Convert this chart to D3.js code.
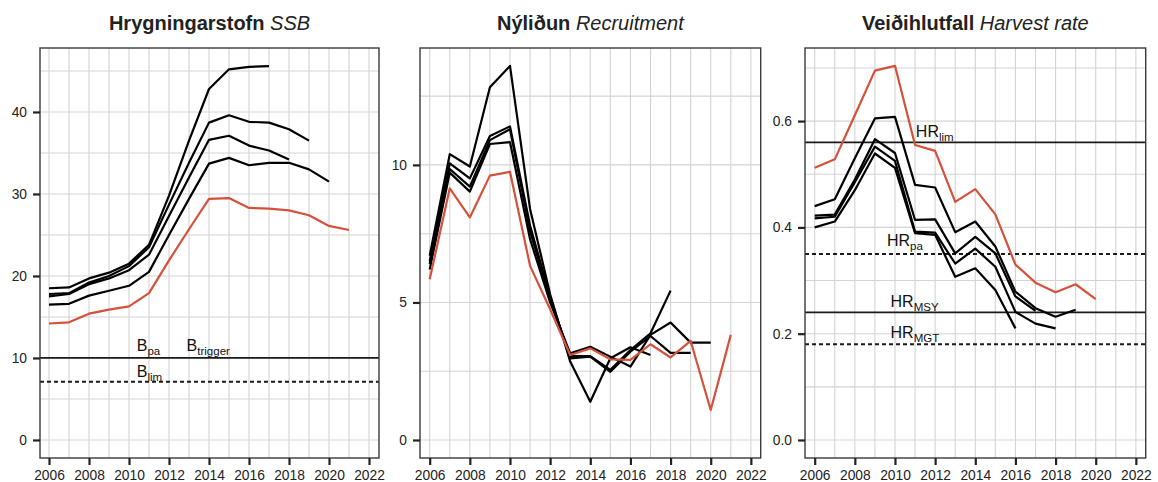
<!DOCTYPE html>
<html>
<head>
<meta charset="utf-8">
<script src="https://cdn.jsdelivr.net/npm/d3@7"></script>
<style>
    body { margin: 0; background: #fff; }
    svg { display: block; font-family: "Liberation Sans", Arial, Helvetica, sans-serif; }
</style>
</head>
<body>
<div id="chart"></div>
<script>
const firstYear = 2006;
const xTickYears = [2006, 2008, 2010, 2012, 2014, 2016, 2018, 2020, 2022];

//spawning stock biomass, one series per assessment (red = latest)
const ssb2017 = [18.5, 18.6, 19.7, 20.4, 21.5, 23.8, 29.8, 36.5, 42.8, 45.2, 45.5, 45.6];
const ssb2018 = [17.5, 17.8, 19.0, 19.7, 20.7, 22.6, 27.3, 32.0, 36.6, 37.1, 35.9, 35.3, 34.2];
const ssb2019 = [17.8, 17.9, 19.2, 20.0, 21.2, 23.5, 28.7, 33.8, 38.7, 39.6, 38.8, 38.7, 37.9, 36.5];
const ssb2020 = [16.5, 16.6, 17.6, 18.2, 18.8, 20.5, 25.0, 29.4, 33.7, 34.4, 33.5, 33.8, 33.8, 33.0, 31.5];
const ssb2021 = [14.2, 14.35, 15.4, 15.9, 16.3, 17.9, 21.9, 25.7, 29.4, 29.5, 28.3, 28.2, 28.0, 27.4, 26.1, 25.6];

//recruitment
const rec2017 = [6.7, 10.39, 9.94, 12.82, 13.6, 8.4, 5.3, 2.85, 1.39, 2.97, 3.37, 3.09];
const rec2018 = [6.4, 9.85, 9.21, 10.9, 11.3, 7.6, 5.1, 3.05, 3.05, 2.55, 3.27, 3.88, 5.43];
const rec2019 = [6.5, 10.06, 9.51, 11.05, 11.4, 7.8, 5.2, 2.97, 3.03, 2.48, 3.21, 3.78, 3.17, 3.17];
const rec2020 = [6.2, 9.72, 9.03, 10.76, 10.83, 7.3, 5.0, 3.15, 3.39, 3.03, 2.67, 3.82, 4.27, 3.54, 3.54];
const rec2021 = [5.84, 9.15, 8.09, 9.61, 9.75, 6.33, 4.75, 3.09, 3.33, 2.93, 2.91, 3.48, 3.0, 3.6, 1.09, 3.82];

//harvest rate
const hr2017 = [0.40, 0.411, 0.47, 0.539, 0.512, 0.389, 0.386, 0.307, 0.323, 0.282, 0.21];
const hr2018 = [0.422, 0.424, 0.49, 0.566, 0.54, 0.414, 0.415, 0.351, 0.382, 0.351, 0.27, 0.243];
const hr2019 = [0.417, 0.420, 0.485, 0.552, 0.525, 0.392, 0.39, 0.332, 0.36, 0.326, 0.241, 0.219, 0.21];
const hr2020 = [0.44, 0.453, 0.53, 0.605, 0.608, 0.48, 0.475, 0.391, 0.411, 0.364, 0.279, 0.248, 0.232, 0.245];
const hr2021 = [0.512, 0.528, 0.611, 0.695, 0.704, 0.555, 0.544, 0.448, 0.472, 0.4245, 0.33, 0.296, 0.278, 0.293, 0.265];

//reference points
const ssbRefs = [
    { label: "B", sub: "pa", value: 10, dashed: false },
    { label: "B", sub: "lim", value: 7.1, dashed: true }
];
const hrRefs = [
    { label: "HR", sub: "lim", value: 0.56, dashed: false },
    { label: "HR", sub: "pa", value: 0.35, dashed: true },
    { label: "HR", sub: "MSY", value: 0.24, dashed: false },
    { label: "HR", sub: "MGT", value: 0.18, dashed: true }
];

const ssbTicks = [0, 10, 20, 30, 40];
const recTicks = [0, 5, 10];
const hrTicks = [0, 0.2, 0.4, 0.6];

const red = "#d4513b";
const W = 1158, H = 482;
const plotTop = 48, plotBottom = 458;

const svg = d3.select("#chart").append("svg")
    .attr("width", W)
    .attr("height", H);

function toPoints(values) {
    return values.map((v, i) => ({ year: firstYear + i, value: v }));
}

function drawPanel(p) {
    const x = d3.scaleLinear().domain(p.xDomain).range([p.left, p.right]);
    const y = d3.scaleLinear().domain(p.yDomain).range([plotBottom, plotTop]);
    const g = svg.append("g");

    //grid lines
    g.selectAll(".vgrid")
        .data(d3.range(2006, 2023))
        .join("line")
        .attr("x1", d => x(d)).attr("x2", d => x(d))
        .attr("y1", plotTop).attr("y2", plotBottom)
        .attr("stroke", "#d3d3d3")
        .attr("stroke-width", 1.1);

    g.selectAll(".hgrid")
        .data(p.gridY)
        .join("line")
        .attr("x1", p.left).attr("x2", p.right)
        .attr("y1", d => y(d)).attr("y2", d => y(d))
        .attr("stroke", "#d3d3d3")
        .attr("stroke-width", 1.1);

    //reference lines
    (p.refs || []).forEach(r => {
        g.append("line")
            .attr("x1", p.left).attr("x2", p.right)
            .attr("y1", y(r.value)).attr("y2", y(r.value))
            .attr("stroke", "#1a1a1a")
            .attr("stroke-width", r.dashed ? 1.9 : 1.8)
            .attr("stroke-dasharray", r.dashed ? "4 3" : null);
    });

    const line = d3.line()
        .x(d => x(d.year))
        .y(d => y(d.value));

    //older assessments in black, latest in red on top
    p.series.forEach((s, i) => {
        g.append("path")
            .datum(toPoints(s))
            .attr("fill", "none")
            .attr("stroke", i === p.series.length - 1 ? red : "#000")
            .attr("stroke-width", 2.2)
            .attr("stroke-linejoin", "round")
            .attr("d", line);
    });

    //reference labels
    (p.refLabels || []).forEach(l => {
        const t = g.append("text")
            .attr("x", x(l.year))
            .attr("y", y(l.value))
            .attr("font-size", 16)
            .attr("fill", "#111");
        t.append("tspan").text(l.label);
        t.append("tspan").attr("dy", 4).attr("font-size", 11.5).text(l.sub);
    });

    //box
    g.append("rect")
        .attr("x", p.left).attr("y", plotTop)
        .attr("width", p.right - p.left)
        .attr("height", plotBottom - plotTop)
        .attr("fill", "none")
        .attr("stroke", "#3a3a3a")
        .attr("stroke-width", 1.4);

    //axes
    const xAxis = g.append("g")
        .attr("transform", `translate(0,${plotBottom})`)
        .call(d3.axisBottom(x).tickValues(xTickYears).tickFormat(d3.format("d"))
            .tickSize(7).tickSizeOuter(0).tickPadding(5));
    const yAxis = g.append("g")
        .attr("transform", `translate(${p.left},0)`)
        .call(d3.axisLeft(y).tickValues(p.ticks).tickFormat(p.format)
            .tickSize(7).tickSizeOuter(0).tickPadding(6));
    [xAxis, yAxis].forEach(a => {
        a.select(".domain").remove();
        a.selectAll(".tick line").attr("stroke", "#222").attr("stroke-width", 2.2);
        a.selectAll(".tick text")
            .attr("font-size", 13.8)
            .attr("fill", "#222");
        a.attr("font-family", null).attr("font-size", null);
    });

    //title
    const title = g.append("text")
        .attr("x", (p.left + p.right) / 2)
        .attr("y", 30)
        .attr("text-anchor", "middle")
        .attr("font-size", 20)
        .attr("fill", "#222");
    title.append("tspan").attr("font-weight", "bold").text(p.title);
    title.append("tspan").attr("font-style", "italic").text(" " + p.subtitle);
}

drawPanel({
    title: "Hrygningarstofn", subtitle: "SSB",
    left: 40, right: 379,
    xDomain: [2005.55, 2022.5], yDomain: [-2.2, 47.8],
    gridY: d3.range(0, 50, 5), ticks: ssbTicks, format: d3.format("d"),
    series: [ssb2017, ssb2018, ssb2019, ssb2020, ssb2021],
    refs: ssbRefs,
    refLabels: [
        { label: "B", sub: "pa", year: 2010.39, value: 10.8 },
        { label: "B", sub: "trigger", year: 2012.88, value: 10.8 },
        { label: "B", sub: "lim", year: 2010.39, value: 7.68 }
    ]
});

drawPanel({
    title: "Nýliðun", subtitle: "Recruitment",
    left: 420, right: 760.7,
    xDomain: [2005.517, 2022.49], yDomain: [-0.655, 14.25],
    gridY: d3.range(0, 15, 2.5), ticks: recTicks, format: d3.format("d"),
    series: [rec2017, rec2018, rec2019, rec2020, rec2021]
});

drawPanel({
    title: "Veiðihlutfall", subtitle: "Harvest rate",
    left: 805, right: 1145.7,
    xDomain: [2005.517, 2022.49], yDomain: [-0.0339, 0.7375],
    gridY: d3.range(0, 0.75, 0.1), ticks: hrTicks, format: d3.format(".1f"),
    series: [hr2017, hr2018, hr2019, hr2020, hr2021],
    refs: hrRefs,
    refLabels: [
        { label: "HR", sub: "lim", year: 2011.04, value: 0.5706 },
        { label: "HR", sub: "pa", year: 2009.6, value: 0.365 },
        { label: "HR", sub: "MSY", year: 2009.78, value: 0.2508 },
        { label: "HR", sub: "MGT", year: 2009.78, value: 0.1925 }
    ]
});
</script>
</body>
</html>
